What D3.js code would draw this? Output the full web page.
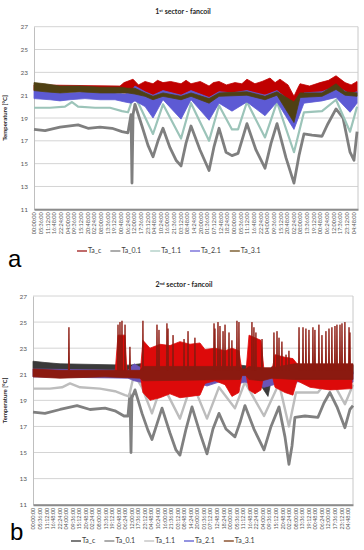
<!DOCTYPE html>
<html>
<head>
<meta charset="utf-8">
<script src="https://cdnjs.cloudflare.com/ajax/libs/d3/7.8.5/d3.min.js"></script>
<style>
  body { margin: 0; background: #fff; }
  svg { display: block; font-family: Lato, "Liberation Sans", Arial, sans-serif; }
</style>
</head>
<body>
<div id="chart-container"></div>
<script>
var temp_ticks = [11, 13, 15, 17, 19, 21, 23, 25, 27];
var series_names = ['Ta_c', 'Ta_0.1', 'Ta_1.1', 'Ta_2.1', 'Ta_3.1'];

// time labels on the category axis (one every 5:36)
var time_labels = ['00:00:00', '05:36:00', '11:12:00', '16:48:00', '22:24:00', '04:00:00', '09:36:00',
  '15:12:00', '20:48:00', '02:24:00', '08:00:00', '13:36:00', '19:12:00', '00:48:00', '06:24:00',
  '12:00:00', '17:36:00', '23:12:00', '04:48:00', '10:24:00', '16:00:00', '21:36:00', '03:12:00',
  '08:48:00', '14:24:00', '20:00:00', '01:36:00', '07:12:00', '12:48:00', '18:24:00', '00:00:00',
  '05:36:00', '11:12:00', '16:48:00', '22:24:00', '04:00:00', '09:36:00', '15:12:00', '20:48:00',
  '02:24:00', '08:00:00', '13:36:00', '19:12:00', '00:48:00', '06:24:00', '12:00:00', '17:36:00',
  '23:12:00', '04:48:00'];
var label_step = 5.6;

// ---- 1st sector : [hour, lo, hi] bands and [hour, value] lines
var a_ta_c = [[0, 21.4, 21.9], [72.4, 21.3, 21.8], [75.8, 21.2, 22.1], [83.4, 21.2, 22.4], [88.0, 21.0, 21.9],
  [93.5, 21.1, 22.2], [100.2, 20.9, 22.0], [104.0, 21.1, 22.3], [108.6, 21.2, 22.1], [115.0, 21.0, 22.2],
  [123.8, 20.9, 22.0], [128.0, 21.1, 22.3], [132.2, 21.1, 22.0], [140.0, 21.0, 22.2], [147.4, 20.5, 21.8],
  [151.0, 20.9, 22.1], [155.8, 21.1, 22.2], [162.0, 21.0, 21.9], [169.2, 21.0, 22.1], [175.0, 21.1, 22.0],
  [179.3, 21.2, 22.4], [186.0, 21.0, 22.0], [192.0, 21.0, 22.2], [198.7, 21.1, 22.5], [203.0, 21.0, 22.1],
  [207.1, 21.1, 22.4], [213.9, 20.5, 21.9], [218.9, 18.4, 20.9], [222.0, 20.4, 21.6], [224.0, 21.0, 22.0],
  [232.0, 21.1, 21.8], [240.8, 21.2, 22.1], [248.0, 21.3, 22.3], [254.3, 21.6, 22.7], [261.9, 21.3, 22.1],
  [267.0, 21.1, 21.9], [272.0, 21.2, 22.2]];
var a_ta_01 = [[0, 18.0], [9.3, 17.9], [21.9, 18.2], [37.1, 18.4], [45.5, 18.1], [55.6, 18.2], [65.7, 18.1],
  [74.1, 17.8], [79.1, 17.7], [81.7, 19.3], [82.5, 13.3], [83.4, 19.3], [85.0, 20.2], [90.9, 18.3], [96.0, 16.6],
  [100.2, 15.6], [104.4, 17.0], [108.6, 18.1], [114.5, 16.4], [119.6, 15.3], [123.8, 14.8], [128.0, 16.8],
  [132.2, 18.3], [139.8, 16.2], [147.4, 14.4], [151.6, 16.5], [155.8, 18.1], [161.7, 16.0], [166.7, 15.7],
  [171.8, 15.9], [179.3, 18.5], [186.9, 16.2], [194.5, 14.6], [199.6, 16.8], [204.6, 18.5], [212.2, 15.5],
  [218.9, 13.3], [223.1, 15.7], [227.3, 17.6], [234.1, 17.5], [242.5, 17.4], [247.5, 18.5], [254.3, 19.8],
  [260.2, 19.0], [266.1, 16.0], [269.4, 15.3], [272.0, 17.8]];
var a_ta_11 = [[0, 19.9], [13.5, 19.9], [26.1, 20.0], [32.0, 20.4], [37.1, 20.0], [51.4, 19.9], [64.0, 19.9],
  [74.1, 19.6], [79.1, 19.5], [84.2, 21.0], [89.2, 20.0], [100.2, 17.6], [108.6, 20.2], [123.8, 17.2],
  [132.2, 20.3], [147.4, 17.0], [155.8, 20.1], [166.7, 18.0], [171.8, 18.0], [179.3, 20.4], [194.5, 17.3],
  [204.6, 20.4], [218.9, 16.0], [227.3, 19.5], [242.5, 19.6], [254.3, 20.6], [266.1, 17.8], [272.0, 20.0]];
var a_ta_21 = [[0, 20.7, 21.4], [13.5, 20.6, 21.3], [21.9, 20.5, 21.2], [30.3, 20.6, 21.2], [42.9, 20.7, 21.3],
  [55.6, 20.6, 21.2], [68.2, 20.6, 21.2], [76.6, 20.4, 21.1], [81.7, 20.3, 21.3], [85.0, 20.5, 21.8],
  [93.5, 20.0, 21.3], [100.2, 19.0, 21.0], [108.6, 20.6, 21.4], [123.8, 18.9, 21.0], [132.2, 20.6, 21.4],
  [147.4, 18.8, 20.8], [155.8, 20.3, 21.3], [166.7, 19.6, 21.2], [179.3, 20.4, 21.4], [194.5, 19.2, 21.0],
  [204.6, 20.4, 21.4], [218.9, 18.0, 20.2], [227.3, 20.3, 21.2], [242.5, 20.5, 21.3], [254.3, 20.8, 21.8],
  [266.1, 19.5, 21.1], [272.0, 20.3, 21.3]];
var a_ta_31 = [[0, 21.4, 22.1], [9.3, 21.3, 22.0], [21.9, 21.2, 21.8], [38.7, 21.3, 21.8], [55.6, 21.2, 21.7],
  [72.4, 21.2, 21.7], [79.1, 21.2, 21.6], [85.0, 21.1, 21.6], [93.5, 20.9, 21.2], [100.2, 20.6, 20.9],
  [108.6, 20.9, 21.2], [123.8, 20.6, 20.9], [132.2, 20.9, 21.2], [147.4, 20.3, 20.7], [155.8, 20.9, 21.2],
  [179.3, 21.0, 21.3], [194.5, 20.6, 20.9], [204.6, 21.0, 21.3], [218.9, 18.6, 20.4], [224.0, 20.8, 21.2],
  [242.5, 20.9, 21.2], [254.3, 21.5, 22.0], [261.9, 21.0, 21.3], [272.0, 20.9, 21.2]];

// ---- 2nd sector
var b_ta_c = [[0, 21.4, 22.0], [10.2, 21.3, 21.9], [23.1, 21.2, 21.8], [82.8, 21.1, 21.7], [91.5, 21.1, 21.8],
  [176.8, 21.0, 21.7], [195.6, 20.0, 21.5], [200.7, 19.3, 21.0], [204.1, 20.8, 21.6], [218.6, 19.6, 21.0],
  [224.6, 20.9, 21.7], [273.3, 21.0, 21.7]];
var b_ta_01 = [[0, 18.1], [10.2, 18.0], [23.1, 18.3], [37.6, 18.6], [48.7, 18.3], [61.5, 18.4], [70.0, 18.2],
  [77.7, 17.8], [81.1, 17.8], [82.8, 19.5], [83.7, 15.0], [84.5, 19.2], [87.1, 19.8], [93.1, 18.0], [98.2, 16.7],
  [101.6, 16.0], [105.9, 17.2], [110.2, 18.4], [117.0, 16.5], [122.1, 15.2], [125.5, 14.8], [130.7, 16.8],
  [135.8, 18.5], [142.6, 16.5], [148.6, 14.9], [153.7, 16.8], [158.8, 18.0], [164.8, 16.8], [172.5, 16.2],
  [176.8, 17.3], [181.0, 18.6], [188.7, 16.8], [197.3, 15.2], [203.3, 17.0], [210.1, 18.5], [215.2, 16.2],
  [218.6, 14.1], [221.2, 15.5], [223.7, 17.7], [232.3, 17.8], [243.4, 17.7], [248.5, 18.8], [253.6, 19.6],
  [259.6, 18.5], [266.4, 16.9], [270.7, 18.3], [273.3, 18.6]];
var b_ta_11 = [[0, 19.9], [14.5, 19.9], [24.8, 20.0], [31.6, 20.3], [40.1, 20.0], [57.2, 19.9], [70.0, 19.7],
  [78.6, 19.4], [82.0, 19.3], [86.3, 21.0], [93.1, 20.0], [101.6, 18.0], [110.2, 20.3], [125.5, 17.6],
  [135.8, 20.4], [148.6, 17.6], [158.8, 20.0], [172.5, 18.4], [181.0, 20.4], [197.3, 17.8], [210.1, 20.3],
  [218.6, 17.0], [224.6, 19.6], [243.4, 19.6], [253.6, 20.8], [266.4, 18.7], [273.3, 20.2]];
var b_ta_21 = [[0, 20.8, 21.4], [81.1, 20.7, 21.3], [86.3, 20.5, 21.8], [101.6, 20.2, 21.0], [110.2, 20.6, 21.3],
  [125.5, 20.1, 20.9], [135.8, 20.5, 21.3], [148.6, 20.1, 20.9], [158.8, 20.4, 21.2], [172.5, 20.2, 21.0],
  [181.0, 20.4, 21.3], [197.3, 20.0, 21.0], [210.1, 20.3, 21.2], [218.6, 19.6, 20.7], [224.6, 20.4, 21.2],
  [253.6, 20.6, 21.3], [266.4, 20.2, 21.0], [273.3, 20.4, 21.2]];
var b_ta_31 = [[0, 20.8, 21.4], [23.1, 20.7, 21.3], [61.5, 20.8, 21.3], [91.5, 20.7, 21.3], [93.9, 20.5, 21.6],
  [176.8, 20.6, 21.6], [178.5, 20.9, 21.4], [181.9, 20.9, 21.4], [184.5, 20.6, 21.6], [195.6, 20.5, 21.5],
  [204.1, 20.7, 21.5], [223.7, 20.6, 21.8], [273.3, 20.6, 21.8]];
// fast fancoil swings of Ta_3.1 (envelope of the oscillation)
var b_ta_31_swing = [[0, 21.0, 21.0], [70.0, 21.0, 21.0], [72.6, 21.0, 24.0], [78.6, 21.0, 24.0], [80.3, 21.0, 21.0],
  [91.5, 21.0, 21.0], [93.9, 19.6, 23.6], [99.9, 19.0, 23.0], [108.5, 19.2, 23.3], [117.0, 19.5, 23.2],
  [125.5, 19.2, 23.5], [134.1, 19.3, 23.3], [142.6, 19.4, 23.4], [146.9, 20.3, 22.9], [155.4, 20.5, 23.0],
  [164.0, 20.2, 22.8], [169.9, 19.3, 23.0], [175.9, 19.6, 22.8], [178.5, 21.0, 21.2], [181.9, 21.0, 21.2],
  [184.5, 19.8, 24.0], [189.6, 19.5, 23.8], [194.7, 19.8, 23.6], [197.3, 21.0, 21.3], [204.1, 21.0, 21.3],
  [206.7, 20.0, 22.5], [215.2, 19.6, 22.3], [222.0, 19.4, 22.2], [225.5, 20.5, 21.8], [236.6, 20.0, 21.6],
  [253.6, 19.8, 21.7], [272.4, 19.9, 21.6]];
var b_ta_31_peaks = [[30.7, 24.6], [72.6, 24.8], [74.3, 25.0], [76.0, 25.1], [78.6, 24.8], [82.8, 23.1],
  [93.9, 25.1], [105.9, 24.8], [107.6, 24.4], [114.4, 24.9], [115.3, 24.5], [119.6, 24.0], [129.0, 23.7],
  [132.4, 24.3], [138.3, 23.8], [154.6, 24.9], [155.4, 24.5], [158.0, 25.0], [159.7, 24.7], [162.3, 24.3],
  [164.0, 24.8], [167.4, 24.2], [169.9, 23.6], [174.2, 25.1], [175.9, 25.0], [187.0, 25.0], [188.7, 24.6],
  [190.4, 24.2], [195.6, 23.7], [205.8, 24.2], [208.4, 24.3], [210.1, 23.8], [212.6, 23.5], [216.1, 22.5],
  [218.6, 22.8], [227.2, 24.6], [230.6, 24.6], [233.1, 24.5], [235.7, 24.4], [239.1, 24.6], [240.8, 24.4],
  [244.2, 24.8], [246.8, 24.0], [250.2, 24.3], [252.8, 24.5], [255.3, 24.6], [257.9, 24.7], [259.6, 24.8],
  [262.2, 24.8], [263.9, 24.9], [266.4, 25.0], [269.9, 24.6], [270.7, 24.2]];
var spike_base = 21.3;

var svg_width = 364;
var svg_height = 550;

var svg = d3.select('#chart-container')
  .append('svg')
  .attr('width', svg_width)
  .attr('height', svg_height);

draw_panel({
  left: 34, right: 358, top: 26.7, bottom: 209.3, hours: 272.8,
  num: '1', sup: 'st', title_x: 183, title_y: 14,
  legend_x: 77, legend_y: 251, letter: 'a', letter_x: 8, letter_y: 267,
  legend_colors: ['#9e1b1b', '#7f7f7f', '#a9cbc2', '#6a60d6', '#6b4a16'],
  series: [
    { kind: 'band', data: a_ta_c, color: '#c00000' },
    { kind: 'line', data: a_ta_01, color: '#7f7f7f', width: 2.8 },
    { kind: 'line', data: a_ta_11, color: '#9cc4b9', width: 2.2 },
    { kind: 'band', data: a_ta_21, color: '#5d5ad4' },
    { kind: 'band', data: a_ta_31, color: '#4f4013' }
  ]
});

draw_panel({
  left: 33, right: 353, top: 296, bottom: 504.7, hours: 273.3,
  num: '2', sup: 'nd', title_x: 184, title_y: 287,
  legend_x: 71, legend_y: 541, letter: 'b', letter_x: 10, letter_y: 540,
  legend_colors: ['#333333', '#7f7f7f', '#bfbfbf', '#5a5ad0', '#7b3a12'],
  series: [
    { kind: 'band', data: b_ta_c, color: '#3a3a3a' },
    { kind: 'line', data: b_ta_01, color: '#808080', width: 2.8 },
    { kind: 'line', data: b_ta_11, color: '#bdbdbd', width: 2.4 },
    { kind: 'band', data: b_ta_21, color: '#6a55b8' },
    { kind: 'band', data: b_ta_31_swing, color: '#dd0a0a' },
    { kind: 'band', data: b_ta_31, color: '#8b1a10' },
    { kind: 'spikes', data: b_ta_31_peaks, color: '#8b1a10' }
  ]
});

function draw_panel(p) {
  var x = d3.scaleLinear().domain([0, p.hours]).range([p.left, p.right]);
  var y = d3.scaleLinear().domain([11, 27]).range([p.bottom, p.top]);
  var label_hours = time_labels.map(function(d, i) { return i * label_step; });

  var g = svg.append('g');

  // horizontal gridlines
  g.selectAll('.grid')
    .data(temp_ticks)
    .enter()
    .append('line')
    .attr('class', 'grid')
    .attr('x1', p.left)
    .attr('x2', p.right)
    .attr('y1', function(d) { return y(d); })
    .attr('y2', function(d) { return y(d); })
    .attr('stroke', '#d4d4d4')
    .attr('stroke-width', 1);

  g.append('line')
    .attr('x1', p.right).attr('x2', p.right)
    .attr('y1', p.top).attr('y2', p.bottom)
    .attr('stroke', '#c8c8c8');

  var y_axis = g.append('g')
    .attr('transform', 'translate(' + p.left + ',0)')
    .call(d3.axisLeft(y).tickValues(temp_ticks).tickSize(0).tickPadding(6));
  y_axis.select('.domain').attr('stroke', '#bfbfbf');
  y_axis.selectAll('text')
    .attr('font-size', '6.5px')
    .attr('fill', '#595959')
    .attr('font-family', 'Lato, sans-serif');

  // series, in the workbook order
  var line = d3.line()
    .x(function(d) { return x(d[0]); })
    .y(function(d) { return y(d[1]); });
  var band = d3.area()
    .x(function(d) { return x(d[0]); })
    .y0(function(d) { return y(d[1]); })
    .y1(function(d) { return y(d[2]); });

  p.series.forEach(function(s) {
    if (s.kind === 'line') {
      g.append('path')
        .attr('d', line(s.data))
        .attr('fill', 'none')
        .attr('stroke', s.color)
        .attr('stroke-width', s.width)
        .attr('stroke-linejoin', 'round');
    } else if (s.kind === 'band') {
      g.append('path')
        .attr('d', band(s.data))
        .attr('fill', s.color)
        .attr('stroke', s.color)
        .attr('stroke-width', 0.8);
    } else {
      g.selectAll('.spike')
        .data(s.data)
        .enter()
        .append('path')
        .attr('d', function(d) {
          return line([[d[0] - 0.5, spike_base], [d[0], d[1]], [d[0] + 0.5, spike_base]]);
        })
        .attr('fill', s.color)
        .attr('stroke', s.color)
        .attr('stroke-width', 0.9);
    }
  });

  // category axis
  var x_axis = g.append('g')
    .attr('transform', 'translate(0,' + p.bottom + ')')
    .call(d3.axisBottom(x)
      .tickValues(label_hours)
      .tickFormat(function(d, i) { return time_labels[i]; })
      .tickSize(0)
      .tickSizeOuter(0));
  x_axis.select('.domain').attr('stroke', '#8c8c8c').attr('stroke-width', 2);
  x_axis.selectAll('text')
    .attr('transform', 'rotate(-90)')
    .attr('x', -3)
    .attr('y', 0)
    .attr('dy', '0.35em')
    .attr('text-anchor', 'end')
    .attr('font-size', '5.5px')
    .attr('fill', '#595959')
    .attr('font-family', 'Lato, sans-serif');

  // title
  var title = svg.append('text')
    .attr('x', p.title_x)
    .attr('y', p.title_y)
    .attr('text-anchor', 'middle')
    .attr('font-size', '7px')
    .attr('font-weight', 'bold')
    .attr('fill', '#262626');
  title.append('tspan').text(p.num);
  title.append('tspan').attr('dy', -2.5).attr('font-size', '4.5px').text(p.sup);
  title.append('tspan').attr('dy', 2.5).text(' sector - fancoil');

  svg.append('text')
    .attr('transform', 'translate(7,' + ((p.top + p.bottom) / 2) + ') rotate(-90)')
    .attr('text-anchor', 'middle')
    .attr('font-size', '6px')
    .attr('font-weight', 'bold')
    .attr('fill', '#262626')
    .text('Temperature [°C]');

  // legend
  var lx = p.legend_x;
  series_names.forEach(function(name, i) {
    svg.append('line')
      .attr('x1', lx).attr('x2', lx + 10)
      .attr('y1', p.legend_y).attr('y2', p.legend_y)
      .attr('stroke', p.legend_colors[i])
      .attr('stroke-width', 1.3);
    var t = svg.append('text')
      .attr('x', lx + 11)
      .attr('y', p.legend_y)
      .attr('dy', '0.35em')
      .attr('font-size', '7px')
      .attr('fill', '#404040')
      .text(name);
    lx += 11 + t.node().getComputedTextLength() + 9;
  });

  svg.append('text')
    .attr('x', p.letter_x)
    .attr('y', p.letter_y)
    .attr('font-size', '24px')
    .attr('font-family', '"Liberation Sans", Arial, sans-serif')
    .attr('fill', '#000')
    .text(p.letter);
}
</script>
</body>
</html>
